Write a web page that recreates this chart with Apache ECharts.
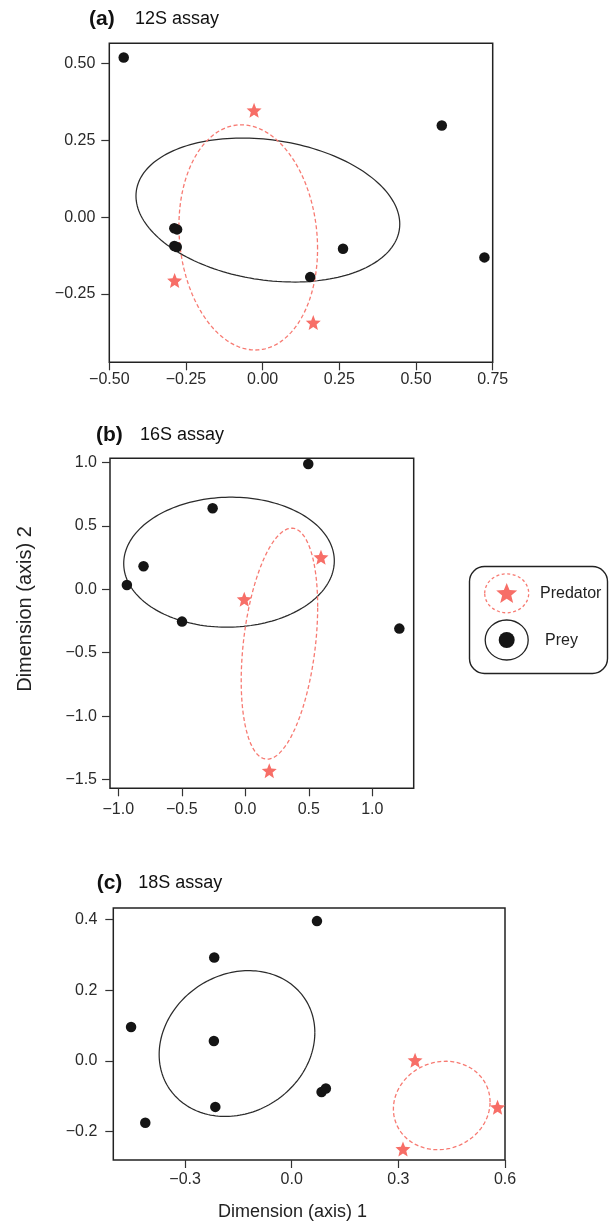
<!DOCTYPE html>
<html>
<head>
<meta charset="utf-8">
<script src="https://cdn.jsdelivr.net/npm/echarts@6/dist/echarts.min.js"></script>
<style>
html,body{margin:0;padding:0;background:#fff;}
#chart{width:611px;height:1223px;}
</style>
</head>
<body>
<div id="chart"></div>
<script>
// ---------- Panel (a) 12S assay ----------
const preyA = [[-0.453,0.519],[0.584,0.298],[0.723,-0.131],[0.262,-0.103],[0.155,-0.195],[-0.288,-0.036],[-0.279,-0.040],[-0.288,-0.094],[-0.280,-0.097]];
const predA = [[-0.028,0.347],[-0.287,-0.206],[0.165,-0.343]];
// ellipse: [centreX, centreY, halfWidthX, halfHeightY, correlation]
const ellPreyA = [0.017, 0.023, 0.430, 0.234, -0.195];
const ellPredA = [-0.047, -0.066, 0.226, 0.366, -0.10];
const xTicksA = [-0.5,-0.25,0,0.25,0.5,0.75];
const xLabelsA = ['\u22120.50','\u22120.25','0.00','0.25','0.50','0.75'];
const yTicksA = [-0.25,0,0.25,0.5];
const yLabelsA = ['\u22120.25','0.00','0.25','0.50'];
const rangeA = [-0.5, 0.75, -0.472, 0.565];

// ---------- Panel (b) 16S assay ----------
const preyB = [[0.496,0.987],[-0.257,0.638],[-0.801,0.181],[-0.932,0.034],[-0.498,-0.255],[1.213,-0.310]];
const predB = [[0.596,0.252],[-0.008,-0.079],[0.189,-1.429]];
const ellPreyB = [-0.128, 0.213, 0.829, 0.512, 0.02];
const ellPredB = [0.269, -0.429, 0.301, 0.910, 0.32];
const xTicksB = [-1,-0.5,0,0.5,1];
const xLabelsB = ['\u22121.0','\u22120.5','0.0','0.5','1.0'];
const yTicksB = [-1.5,-1,-0.5,0,0.5,1];
const yLabelsB = ['\u22121.5','\u22121.0','\u22120.5','0.0','0.5','1.0'];
const rangeB = [-1.065, 1.326, -1.568, 1.0315];

// ---------- Panel (c) 18S assay ----------
const preyC = [[0.071,0.395],[-0.218,0.292],[-0.452,0.096],[-0.219,0.056],[-0.215,-0.130],[-0.412,-0.175],[0.084,-0.088],[0.096,-0.078]];
const predC = [[0.347,0.002],[0.579,-0.131],[0.313,-0.249]];
const ellPreyC = [-0.154, 0.049, 0.219, 0.206, 0.15];
const ellPredC = [0.422, -0.126, 0.136, 0.125, 0.08];
const xTicksC = [-0.3,0,0.3,0.6];
const xLabelsC = ['\u22120.3','0.0','0.3','0.6'];
const yTicksC = [-0.2,0,0.2,0.4];
const yLabelsC = ['\u22120.2','0.0','0.2','0.4'];
const rangeC = [-0.502, 0.6, -0.28, 0.432];

const panelTitles = [['(a)','12S assay'],['(b)','16S assay'],['(c)','18S assay']];
const legendLabels = ['Predator','Prey'];
const axisTitles = ['Dimension (axis) 1','Dimension (axis) 2'];

// ---------- styling ----------
const FONT = '"Liberation Sans", Arial, Helvetica, sans-serif';
const RED = '#F76E67';
const REDLINE = '#F77A72';
const BLACK = '#151515';

function ellipsePts(e){
  const [cx,cy,rx,ry,rho] = e;
  const d = Math.acos(rho);
  const pts = [];
  const N = 180;
  for(let i=0;i<=N;i++){
    const t = 2*Math.PI*i/N;
    pts.push([cx + rx*Math.cos(t), cy + ry*Math.cos(t - d)]);
  }
  return pts;
}
function starPath(R, r){
  let s = '';
  for(let i=0;i<10;i++){
    const rad = (i%2===0)?R:r;
    const a = -Math.PI/2 + i*Math.PI/5;
    const x = (rad*Math.cos(a)).toFixed(3), y = (rad*Math.sin(a)).toFixed(3);
    s += (i===0?'M':'L') + x + ',' + y + ' ';
  }
  return s + 'Z';
}
function starPoints(cx, cy, R, r){
  const p=[];
  for(let i=0;i<10;i++){
    const rad=(i%2===0)?R:r; const a=-Math.PI/2+i*Math.PI/5;
    p.push([cx+rad*Math.cos(a), cy+rad*Math.sin(a)]);
  }
  return p;
}
const STAR = 'path://' + starPath(10, 4.4);

function lookup(ticks, labels){
  return function(v){
    let best=0, bd=Infinity;
    ticks.forEach((t,i)=>{const d=Math.abs(t-v); if(d<bd){bd=d;best=i;}});
    return labels[best];
  };
}

const grids = [
  {left:109.3, top:43.3, width:383.4, height:319},
  {left:110, top:458.3, width:303.7, height:330},
  {left:113.3, top:908, width:391.7, height:252}
].map(g=>Object.assign(g,{show:true, borderColor:'#222', borderWidth:1.5, backgroundColor:'transparent', containLabel:false}));

const ranges = [rangeA, rangeB, rangeC];
const xT = [[xTicksA,xLabelsA],[xTicksB,xLabelsB],[xTicksC,xLabelsC]];
const yT = [[yTicksA,yLabelsA],[yTicksB,yLabelsB],[yTicksC,yLabelsC]];
const xMargins = [9, 13, 12];
const yMargins = [14, 13, 16];

const xAxes = ranges.map((r,i)=>({
  type:'value', gridIndex:i, min:r[0], max:r[1], position:'bottom',
  axisLine:{show:false, onZero:false},
  axisTick:{show:true, inside:false, length:8, customValues:xT[i][0], lineStyle:{color:'#333', width:1.2}},
  axisLabel:{show:true, customValues:xT[i][0], formatter:lookup(xT[i][0],xT[i][1]), margin:xMargins[i],
    fontFamily:FONT, fontSize:16, color:'#2a2a2a', showMinLabel:true, showMaxLabel:true},
  splitLine:{show:false}
}));
const yAxes = ranges.map((r,i)=>({
  type:'value', gridIndex:i, min:r[2], max:r[3], position:'left',
  axisLine:{show:false, onZero:false},
  axisTick:{show:true, inside:false, length:8, customValues:yT[i][0], lineStyle:{color:'#333', width:1.2}},
  axisLabel:{show:true, customValues:yT[i][0], formatter:lookup(yT[i][0],yT[i][1]), margin:yMargins[i],
    fontFamily:FONT, fontSize:16, color:'#2a2a2a', showMinLabel:true, showMaxLabel:true},
  splitLine:{show:false}
}));

const panels = [
  [preyA, predA, ellPreyA, ellPredA],
  [preyB, predB, ellPreyB, ellPredB],
  [preyC, predC, ellPreyC, ellPredC]
];
const series = [];
panels.forEach((p,i)=>{
  series.push({type:'line', xAxisIndex:i, yAxisIndex:i, data:ellipsePts(p[2]), showSymbol:false, symbol:'none',
    lineStyle:{color:'#2b2b2b', width:1.25}, z:2, silent:true});
  series.push({type:'line', xAxisIndex:i, yAxisIndex:i, data:ellipsePts(p[3]), showSymbol:false, symbol:'none',
    lineStyle:{color:REDLINE, width:1.3, type:[4,2.5]}, z:2, silent:true});
  series.push({type:'scatter', xAxisIndex:i, yAxisIndex:i, data:p[0], symbol:'circle', symbolSize:10.5,
    itemStyle:{color:BLACK, opacity:1}, z:3});
  series.push({type:'scatter', xAxisIndex:i, yAxisIndex:i, data:p[1], symbol:STAR, symbolSize:15,
    itemStyle:{color:RED, opacity:1}, z:4});
});

const titlePos = [[89, 135, 19],[96, 140, 435],[96.7, 138.3, 883.5]];
const graphics = [];
titlePos.forEach((tp,i)=>{
  graphics.push({type:'text', x:tp[0], y:tp[2], style:{text:panelTitles[i][0], font:'bold 21px '+FONT, fill:'#111', textAlign:'left', textVerticalAlign:'middle'}});
  graphics.push({type:'text', x:tp[1], y:tp[2], style:{text:panelTitles[i][1], font:'18px '+FONT, fill:'#111', textAlign:'left', textVerticalAlign:'middle'}});
});
graphics.push({type:'text', x:292.5, y:1212.5, style:{text:axisTitles[0], font:'18px '+FONT, fill:'#222', textAlign:'center', textVerticalAlign:'middle'}});
graphics.push({type:'text', x:25, y:609, rotation:Math.PI/2, style:{text:axisTitles[1], font:'20px '+FONT, fill:'#222', textAlign:'center', textVerticalAlign:'middle'}});
// legend box
graphics.push({type:'rect', shape:{x:469.5, y:566.5, width:138, height:107, r:15}, style:{fill:'#fff', stroke:'#222', lineWidth:1.4}});
graphics.push({type:'ellipse', shape:{cx:506.7, cy:593.3, rx:22, ry:19.5}, style:{fill:'none', stroke:REDLINE, lineWidth:1.3, lineDash:[3,2.5]}});
graphics.push({type:'polygon', shape:{points:starPoints(506.7, 594, 11, 4.8)}, style:{fill:RED}});
graphics.push({type:'text', x:540, y:593.5, style:{text:legendLabels[0], font:'16px '+FONT, fill:'#222', textAlign:'left', textVerticalAlign:'middle'}});
graphics.push({type:'ellipse', shape:{cx:506.7, cy:640, rx:21.5, ry:20}, style:{fill:'none', stroke:'#222', lineWidth:1.3}});
graphics.push({type:'circle', shape:{cx:506.7, cy:640, r:8}, style:{fill:BLACK}});
graphics.push({type:'text', x:545, y:641, style:{text:legendLabels[1], font:'16px '+FONT, fill:'#222', textAlign:'left', textVerticalAlign:'middle'}});

const chart = echarts.init(document.getElementById('chart'), null, {renderer:'canvas'});
chart.setOption({
  animation:false,
  backgroundColor:'#fff',
  grid:grids,
  xAxis:xAxes,
  yAxis:yAxes,
  series:series,
  graphic:graphics
});
</script>
</body>
</html>
